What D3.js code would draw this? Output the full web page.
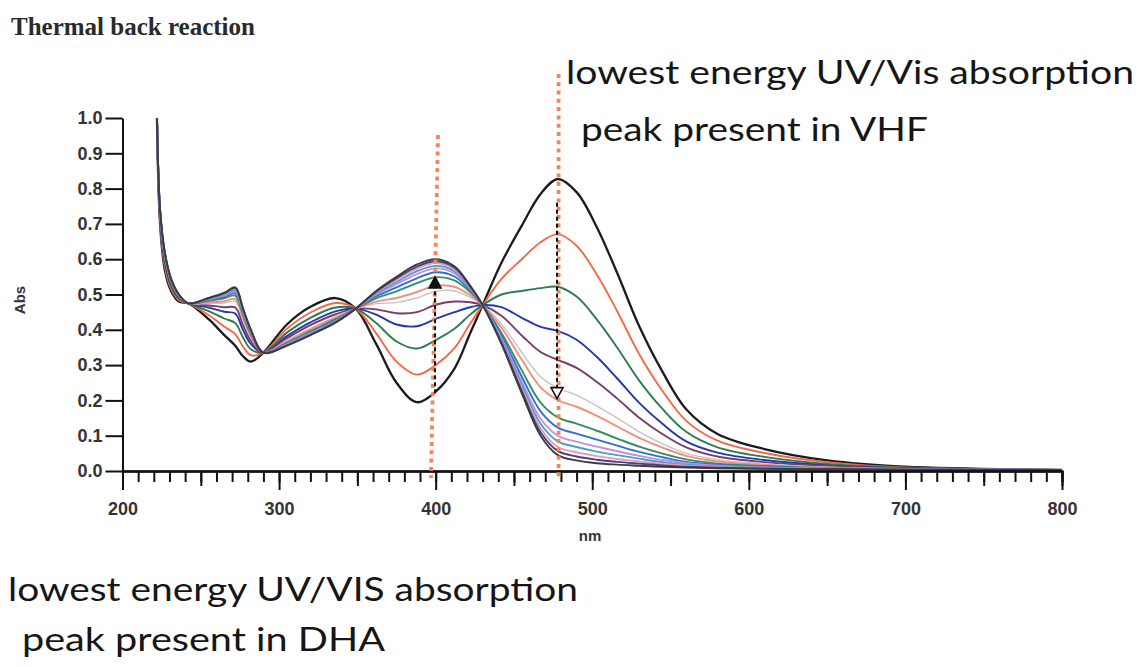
<!DOCTYPE html>
<html>
<head>
<meta charset="utf-8">
<script src="https://cdnjs.cloudflare.com/ajax/libs/d3/7.8.5/d3.min.js"></script>
<style>
  body { margin: 0; background: #fff; }
  svg { display: block; }
</style>
</head>
<body>
<div class="container"></div>
<script>
// wavelength grid (nm) shared by every scan
const wavelengths = [222, 224, 227, 231, 236, 242, 255, 265, 272, 277, 282, 290, 305, 320, 336, 349, 362, 375, 388, 400, 412, 422, 430, 442, 455, 467, 478, 490, 503, 516, 530, 545, 560, 580, 610, 650, 700, 800];

// absorbance of each scan, first = VHF (black), last = DHA
const scan0 = [1.00, 0.70, 0.57, 0.51, 0.48, 0.475, 0.43, 0.385, 0.355, 0.325, 0.31, 0.335, 0.415, 0.465, 0.49, 0.46, 0.36, 0.25, 0.195, 0.225, 0.29, 0.39, 0.47, 0.59, 0.695, 0.785, 0.827, 0.79, 0.69, 0.56, 0.41, 0.28, 0.175, 0.105, 0.062, 0.03, 0.012, 0.003];
const scan1 = [1.00, 0.708, 0.58, 0.517, 0.484, 0.475, 0.442, 0.409, 0.388, 0.352, 0.328, 0.335, 0.403, 0.449, 0.476, 0.46, 0.39, 0.31, 0.273, 0.30, 0.348, 0.417, 0.47, 0.544, 0.60, 0.648, 0.671, 0.638, 0.556, 0.452, 0.331, 0.226, 0.142, 0.086, 0.051, 0.025, 0.010, 0.003];
const scan2 = [1.00, 0.716, 0.59, 0.524, 0.488, 0.475, 0.453, 0.432, 0.419, 0.378, 0.345, 0.335, 0.392, 0.434, 0.463, 0.46, 0.419, 0.367, 0.347, 0.371, 0.403, 0.443, 0.47, 0.50, 0.51, 0.518, 0.522, 0.494, 0.429, 0.349, 0.256, 0.175, 0.111, 0.067, 0.040, 0.02, 0.009, 0.003];
const scan3 = [1.00, 0.722, 0.598, 0.529, 0.491, 0.475, 0.463, 0.451, 0.446, 0.399, 0.36, 0.335, 0.382, 0.421, 0.452, 0.46, 0.443, 0.415, 0.41, 0.431, 0.45, 0.464, 0.47, 0.464, 0.434, 0.408, 0.397, 0.372, 0.323, 0.262, 0.193, 0.133, 0.084, 0.052, 0.031, 0.016, 0.008, 0.003];
const scan4 = [1.00, 0.726, 0.603, 0.533, 0.493, 0.475, 0.469, 0.464, 0.463, 0.413, 0.369, 0.335, 0.376, 0.413, 0.444, 0.46, 0.458, 0.447, 0.45, 0.471, 0.48, 0.478, 0.47, 0.44, 0.384, 0.337, 0.315, 0.292, 0.252, 0.205, 0.151, 0.104, 0.067, 0.041, 0.025, 0.014, 0.007, 0.003];
const scan5 = [1.00, 0.73, 0.608, 0.536, 0.495, 0.475, 0.475, 0.476, 0.48, 0.427, 0.378, 0.335, 0.37, 0.404, 0.437, 0.46, 0.474, 0.477, 0.49, 0.509, 0.51, 0.492, 0.47, 0.416, 0.336, 0.267, 0.235, 0.215, 0.184, 0.15, 0.111, 0.077, 0.05, 0.032, 0.02, 0.011, 0.006, 0.003];
const scan6 = [1.00, 0.732, 0.61, 0.538, 0.496, 0.475, 0.478, 0.481, 0.487, 0.433, 0.382, 0.335, 0.367, 0.401, 0.434, 0.46, 0.48, 0.49, 0.507, 0.525, 0.522, 0.498, 0.47, 0.406, 0.315, 0.237, 0.201, 0.182, 0.156, 0.126, 0.094, 0.066, 0.043, 0.027, 0.017, 0.01, 0.006, 0.003];
const scan7 = [1.00, 0.735, 0.613, 0.54, 0.497, 0.475, 0.482, 0.489, 0.497, 0.442, 0.388, 0.335, 0.363, 0.396, 0.43, 0.46, 0.489, 0.509, 0.532, 0.549, 0.54, 0.507, 0.47, 0.391, 0.285, 0.194, 0.152, 0.134, 0.114, 0.092, 0.069, 0.049, 0.033, 0.021, 0.014, 0.008, 0.005, 0.003];
const scan8 = [1.00, 0.736, 0.615, 0.542, 0.498, 0.475, 0.484, 0.493, 0.504, 0.447, 0.391, 0.335, 0.361, 0.393, 0.427, 0.46, 0.495, 0.52, 0.546, 0.563, 0.551, 0.512, 0.47, 0.383, 0.267, 0.169, 0.123, 0.106, 0.089, 0.072, 0.054, 0.039, 0.026, 0.018, 0.012, 0.007, 0.005, 0.003];
const scan9 = [1.00, 0.737, 0.617, 0.543, 0.499, 0.475, 0.486, 0.497, 0.508, 0.451, 0.394, 0.335, 0.359, 0.391, 0.425, 0.46, 0.50, 0.529, 0.558, 0.574, 0.56, 0.516, 0.47, 0.376, 0.253, 0.148, 0.10, 0.083, 0.069, 0.056, 0.043, 0.031, 0.022, 0.015, 0.01, 0.007, 0.005, 0.003];
const scan10 = [1.00, 0.738, 0.618, 0.543, 0.499, 0.475, 0.487, 0.499, 0.512, 0.453, 0.396, 0.335, 0.358, 0.389, 0.424, 0.46, 0.503, 0.535, 0.566, 0.581, 0.566, 0.518, 0.47, 0.371, 0.244, 0.134, 0.084, 0.068, 0.055, 0.045, 0.035, 0.025, 0.018, 0.013, 0.009, 0.006, 0.004, 0.003];
const scan11 = [1.00, 0.739, 0.619, 0.544, 0.499, 0.475, 0.488, 0.501, 0.515, 0.456, 0.397, 0.335, 0.357, 0.387, 0.422, 0.46, 0.506, 0.541, 0.573, 0.589, 0.571, 0.521, 0.47, 0.367, 0.234, 0.121, 0.068, 0.053, 0.042, 0.034, 0.027, 0.02, 0.015, 0.011, 0.008, 0.006, 0.004, 0.003];
const scan12 = [1.00, 0.739, 0.619, 0.544, 0.50, 0.475, 0.489, 0.503, 0.518, 0.458, 0.399, 0.335, 0.356, 0.386, 0.421, 0.46, 0.508, 0.546, 0.579, 0.594, 0.576, 0.523, 0.47, 0.364, 0.227, 0.11, 0.057, 0.041, 0.032, 0.026, 0.021, 0.016, 0.012, 0.009, 0.007, 0.005, 0.004, 0.003];
const scan13 = [1.00, 0.74, 0.62, 0.545, 0.50, 0.475, 0.49, 0.505, 0.52, 0.46, 0.40, 0.335, 0.355, 0.385, 0.42, 0.46, 0.51, 0.55, 0.585, 0.60, 0.58, 0.525, 0.47, 0.36, 0.22, 0.10, 0.045, 0.03, 0.022, 0.018, 0.015, 0.012, 0.01, 0.008, 0.006, 0.005, 0.004, 0.003];

const scans = [scan0, scan1, scan2, scan3, scan4, scan5, scan6, scan7, scan8, scan9, scan10, scan11, scan12, scan13];
const scanColors = ['#1b1b1b', '#f36a48', '#2e7b4f', '#2437b0', '#7a3b6d', '#c4c4c4', '#f2907e', '#34905e', '#2f6fd8', '#c88de2', '#44a3cc', '#ea9bb4', '#4c3f86', '#3c3c3c'];

const xTicks = [200, 300, 400, 500, 600, 700, 800];
const yTicks = [0, 0.1, 0.2, 0.3, 0.4, 0.5, 0.6, 0.7, 0.8, 0.9, 1.0];

let width = 1142;
let height = 667;

let svg = d3
  .select('.container')
  .append('svg')
  .attr('width', width)
  .attr('height', height);

let x = d3.scaleLinear().domain([200, 800]).range([122.5, 1062]);
let y = d3.scaleLinear().domain([0, 1]).range([471, 118]);

// title
svg
  .append('text')
  .attr('x', 11)
  .attr('y', 35)
  .style('font-family', '"Liberation Serif", "Times New Roman", serif')
  .style('font-weight', 'bold')
  .style('font-size', '25px')
  .style('fill', '#2a2a2a')
  .text('Thermal back reaction');

// spectra
let line = d3
  .line()
  .x((d, i) => x(wavelengths[i]))
  .y((d) => y(d))
  .curve(d3.curveCatmullRom.alpha(0.5));

svg
  .append('g')
  .selectAll('path')
  .data(scans)
  .enter()
  .append('path')
  .attr('d', line)
  .attr('fill', 'none')
  .attr('stroke', (d, i) => scanColors[i])
  .attr('stroke-width', (d, i) => (i === 0 ? 2.3 : i === 5 ? 1.4 : 1.9))
  .attr('stroke-linejoin', 'round');

// axes
let axisFont = '"Liberation Sans", Arial, sans-serif';

let styleAxis = (g) => {
  g.selectAll('line').attr('stroke', '#111').attr('stroke-width', 2);
  g.selectAll('.domain').attr('stroke', '#111').attr('stroke-width', 2);
  g.selectAll('text')
    .style('font-family', axisFont)
    .style('font-size', '18px')
    .style('font-weight', 'bold')
    .style('fill', '#333');
};

// minor ticks every 10 nm, medium every 50 nm
svg
  .append('g')
  .attr('transform', 'translate(0,471)')
  .call(d3.axisBottom(x).tickValues(d3.range(200, 801, 10)).tickSize(11).tickFormat(''))
  .call(styleAxis);
svg
  .append('g')
  .attr('transform', 'translate(0,471)')
  .call(d3.axisBottom(x).tickValues([250, 350, 450, 550, 650, 750]).tickSize(15).tickFormat(''))
  .call(styleAxis);
svg
  .append('g')
  .attr('transform', 'translate(0,471)')
  .call(d3.axisBottom(x).tickValues(xTicks).tickSize(19).tickSizeOuter(0).tickPadding(12).tickFormat(d3.format('d')))
  .call(styleAxis);

svg
  .append('g')
  .attr('transform', 'translate(122.5,0)')
  .call(d3.axisLeft(y).tickValues(yTicks).tickSize(17).tickSizeOuter(0).tickPadding(3).tickFormat(d3.format('.1f')))
  .call(styleAxis);

svg
  .append('text')
  .attr('transform', 'translate(25,300) rotate(-90)')
  .attr('text-anchor', 'middle')
  .style('font-family', axisFont)
  .style('font-size', '15px')
  .style('font-weight', 'bold')
  .style('fill', '#333')
  .text('Abs');

svg
  .append('text')
  .attr('x', 590)
  .attr('y', 541)
  .attr('text-anchor', 'middle')
  .style('font-family', axisFont)
  .style('font-size', '15px')
  .style('font-weight', 'bold')
  .style('fill', '#333')
  .text('nm');

// orange dotted guide lines at the two band maxima
let guides = [
  { nmTop: 401.5, nmBottom: 397, top: 0.952, bottom: -0.02 },
  { nmTop: 478.5, nmBottom: 478.5, top: 1.125, bottom: -0.02 },
];
svg
  .append('g')
  .selectAll('line')
  .data(guides)
  .enter()
  .append('line')
  .attr('x1', (d) => x(d.nmTop))
  .attr('x2', (d) => x(d.nmBottom))
  .attr('y1', (d) => y(d.top))
  .attr('y2', (d) => y(d.bottom))
  .attr('stroke', '#f4845c')
  .attr('stroke-width', 3.8)
  .attr('stroke-dasharray', '4,4.3');

// black dashed arrows showing the change over time
let arrows = [
  { nm: 399.6, from: 0.22, to: 0.55, open: false },
  { nm: 477.5, from: 0.76, to: 0.205, open: true },
];
let arrowG = svg.append('g');
arrows.forEach((a) => {
  let cx = x(a.nm);
  let tip = y(a.to);
  let dir = a.to > a.from ? 1 : -1; // 1 = pointing up
  let base = tip + dir * 11;
  arrowG
    .append('line')
    .attr('x1', cx)
    .attr('x2', cx)
    .attr('y1', y(a.from))
    .attr('y2', base)
    .attr('stroke', '#111')
    .attr('stroke-width', 2)
    .attr('stroke-dasharray', '4,3');
  arrowG
    .append('path')
    .attr('d', `M${cx},${tip}L${cx - 6},${base}L${cx + 6},${base}Z`)
    .attr('fill', a.open ? '#fff' : '#111')
    .attr('stroke', '#111')
    .attr('stroke-width', 1.6)
    .attr('stroke-linejoin', 'miter');
});

// slide annotations
let notes = [
  { text: 'lowest energy UV/Vis absorption', x: 566, y: 84, len: 568 },
  { text: 'peak present in VHF', x: 581, y: 141, len: 347 },
  { text: 'lowest energy UV/VIS absorption', x: 8, y: 601, len: 570 },
  { text: 'peak present in DHA', x: 22, y: 651, len: 363 },
];
svg
  .append('g')
  .selectAll('text')
  .data(notes)
  .enter()
  .append('text')
  .attr('x', (d) => d.x)
  .attr('y', (d) => d.y)
  .attr('textLength', (d) => d.len)
  .attr('lengthAdjust', 'spacingAndGlyphs')
  .style('font-family', 'Lato, "Open Sans", sans-serif')
  .style('font-size', '33px')
  .style('fill', '#161616')
  .text((d) => d.text);
</script>
</body>
</html>
